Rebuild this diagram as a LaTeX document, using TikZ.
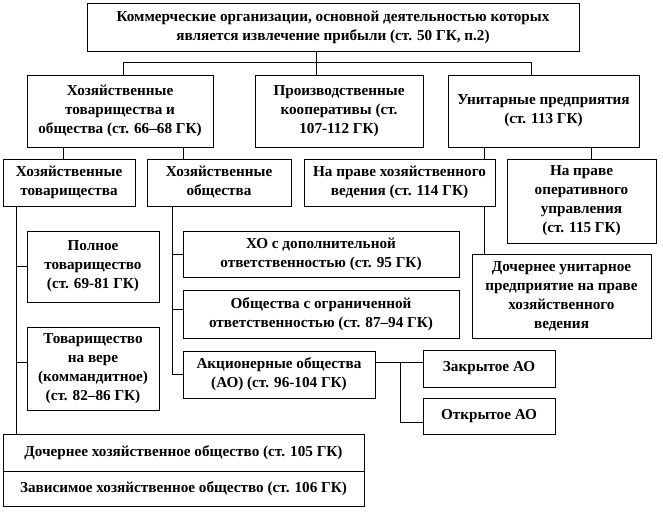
\documentclass[tikz,border=0pt]{standalone}
\usepackage{fontspec}
\setmainfont{Liberation Serif}
\usetikzlibrary{shadows}
\begin{document}
\begin{tikzpicture}[x=1pt,y=-1pt,
every node/.style={font=\bfseries\fontsize{15.2}{19}\selectfont},
box/.style={draw,rectangle,fill=white,align=center,inner sep=0pt,line width=0.8pt,
  drop shadow={shadow xshift=1.2pt,shadow yshift=-1.2pt,fill=black!70,opacity=1}},
sz/.style 2 args={minimum width=#1pt,minimum height=#2pt},
link/.style={draw,line width=0.8pt}
]
\useasboundingbox (0,0) rectangle (663,519);
% level 1
\node[box,sz={492}{48}] (kom) at (333,27) {Коммерческие организации, основной деятельностью которых\\является извлечение прибыли (ст. 50 ГК, п.2)};
% level 2
\node[box,sz={186}{72}] (hto) at (120,111) {Хозяйственные\\товарищества и\\общества (ст. 66–68 ГК)};
\node[box,sz={168}{72}] (pk) at (339,111) {Производственные\\кооперативы (ст.\\107-112 ГК)};
\node[box,sz={191}{72}] (up) at (543.5,111) {Унитарные предприятия\\(ст. 113 ГК)};
% level 3
\node[box,sz={132}{47}] (ht) at (69,182.5) {Хозяйственные\\товарищества};
\node[box,sz={144}{47}] (ho) at (219,182.5) {Хозяйственные\\общества};
\node[box,sz={191}{47}] (hv) at (399.5,182.5) {На праве хозяйственного\\ведения (ст. 114 ГК)};
\node[box,sz={149}{84}] (ou) at (581.5,201) {На праве\\оперативного\\управления\\(ст. 115 ГК)};
% товарищества
\node[box,sz={132}{71}] (pt) at (93,266.5) {Полное\\товарищество\\(ст. 69-81 ГК)};
\node[box,sz={132}{83}] (tv) at (93,368.5) {Товарищество\\на вере\\(коммандитное)\\(ст. 82–86 ГК)};
% общества
\node[box,sz={276}{46}] (hodo) at (321,254) {ХО с дополнительной\\ответственностью (ст. 95 ГК)};
\node[box,sz={276}{48}] (ooo) at (321,314) {Общества с ограниченной\\ответственностью (ст. 87–94 ГК)};
\node[box,sz={192}{47}] (ao) at (279,374.5) {Акционерные общества\\(АО) (ст. 96-104 ГК)};
\node[box,sz={132}{37}] (zao) at (489,368.5) {Закрытое АО};
\node[box,sz={132}{36}] (oao) at (489,416) {Открытое АО};
% унитарные
\node[box,sz={179}{84}] (dup) at (561.5,296) {Дочернее унитарное\\предприятие на праве\\хозяйственного\\ведения};
% bottom
\node[box,sz={361}{37}] (dho) at (183.5,452.5) {Дочернее хозяйственное общество (ст. 105 ГК)};
\node[box,sz={361}{35}] (zho) at (183.5,488.5) {Зависимое хозяйственное общество (ст. 106 ГК)};
% connectors
\coordinate (bus) at (316,62);
\coordinate (busl) at (123,62);
\coordinate (busr) at (531,62);
\draw[link] (bus |- kom.south) -- (bus |- pk.north);
\draw[link] (busl) -- (busr);
\draw[link] (busl) -- (busl |- hto.north);
\draw[link] (busr) -- (busr |- up.north);
\coordinate (a1) at (63,0);
\coordinate (a2) at (183,0);
\draw[link] (a1 |- hto.south) -- (a1 |- ht.north);
\draw[link] (a2 |- hto.south) -- (a2 |- ho.north);
\coordinate (c1) at (484,0);
\coordinate (c2) at (591,0);
\draw[link] (c1 |- up.south) -- (c1 |- hv.north);
\draw[link] (c2 |- up.south) -- (c2 |- ou.north);
\draw[link] (c1 |- hv.south) -- (c1 |- dup.north);
% товарищества branch
\coordinate (d1) at (16,0);
\coordinate (tvin) at ([yshift=6pt]tv.west);
\draw[link] (d1 |- ht.south) -- (d1 |- dho.north);
\draw[link] (d1 |- pt.west) -- (pt.west);
\draw[link] (d1 |- tvin) -- (tvin);
% общества branch
\coordinate (e1) at (172,0);
\coordinate (oooin) at ([yshift=5pt]ooo.west);
\draw[link] (e1 |- ho.south) -- (e1 |- ao.west) -- (ao.west);
\draw[link] (e1 |- hodo.west) -- (hodo.west);
\draw[link] (e1 |- oooin) -- (oooin);
% АО branch
\coordinate (aj) at (400,362);
\coordinate (oj) at (400,422);
\draw[link] (ao.east |- aj) -- (zao.west |- aj);
\draw[link] (aj) -- (oj) -- (oao.west |- oj);
\end{tikzpicture}
\end{document}
